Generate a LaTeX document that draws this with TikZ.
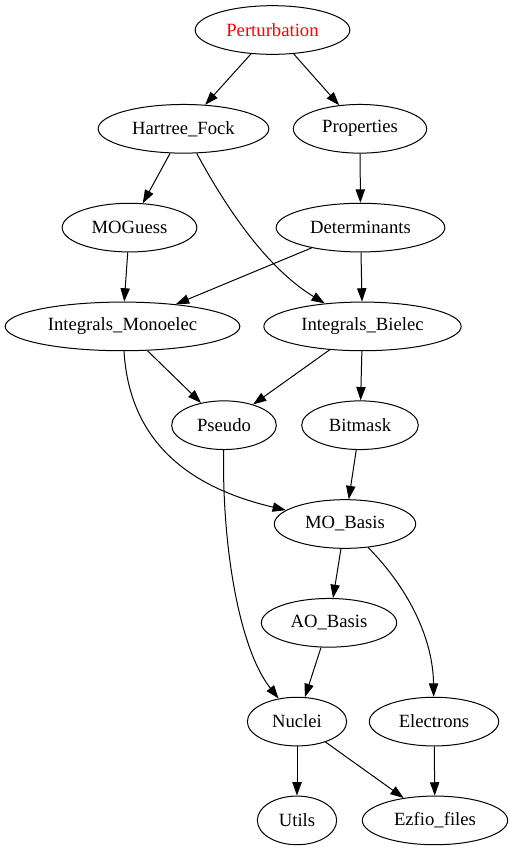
\documentclass[tikz,border=0pt]{standalone}
\usepackage{fontspec}
\setmainfont{Liberation Serif}
\usetikzlibrary{shapes.geometric, arrows.meta}
\tikzstyle{module} = [ellipse, minimum height=36.5pt, inner sep=1pt, text centered, draw=black, line width=0.75pt, font=\fontsize{14pt}{16pt}\selectfont]
\tikzstyle{arrow} = [line width=0.75pt, -{Triangle[length=10pt, width=7pt]}]

\begin{document}
\begin{tikzpicture}[x=0.75pt, y=-0.75pt]
\useasboundingbox (0,0) rectangle (509,851);

\node (perturbation) [module, minimum width=116pt, text=red] at (272.5,30) {Perturbation};

\node (hartree_fock) [module, minimum width=128pt] at (183.5,128.8) {Hartree\_Fock};
\node (properties) [module, minimum width=100pt] at (360,128.8) {Properties};

\node (moguess) [module, minimum width=101pt] at (129.5,227.6) {MOGuess};
\node (determinants) [module, minimum width=126.5pt] at (360.5,227.6) {Determinants};

\node (int_mono) [module, minimum width=176pt] at (122.5,326.4) {Integrals\_Monoelec};
\node (int_bielec) [module, minimum width=148pt] at (362.5,326.4) {Integrals\_Bielec};

\node (pseudo) [module, minimum width=78.5pt] at (224,425.2) {Pseudo};
\node (bitmask) [module, minimum width=87.5pt] at (360,425.2) {Bitmask};

\node (mo_basis) [module, minimum width=106pt] at (345,524) {MO\_Basis};

\node (ao_basis) [module, minimum width=101.5pt] at (329,622.8) {AO\_Basis};

\node (nuclei) [module, minimum width=74.5pt] at (297,721.6) {Nuclei};
\node (electrons) [module, minimum width=97pt] at (434,721.6) {Electrons};

\node (utils) [module, minimum width=59.5pt] at (297,820.4) {Utils};
\node (ezfio) [module, minimum width=109pt] at (435,820.4) {Ezfio\_files};



\draw [arrow] (perturbation) -- (hartree_fock);
\draw [arrow] (perturbation) -- (properties);
\draw [arrow] (hartree_fock) -- (moguess);
\draw [arrow] (hartree_fock) .. controls (230,215) and (270,270) .. (int_bielec);
\draw [arrow] (properties) -- (determinants);
\draw [arrow] (moguess) -- (int_mono);
\draw [arrow] (determinants) -- (int_mono);
\draw [arrow] (determinants) -- (int_bielec);
\draw [arrow] (int_mono) -- (pseudo);
\draw [arrow] (int_mono) .. controls (130,450) and (200,490) .. (mo_basis);
\draw [arrow] (int_bielec) -- (pseudo);
\draw [arrow] (int_bielec) -- (bitmask);
\draw [arrow] (pseudo) .. controls (222,550) and (240,650) .. (nuclei);
\draw [arrow] (bitmask) -- (mo_basis);
\draw [arrow] (mo_basis) -- (ao_basis);
\draw [arrow] (mo_basis) .. controls (410,590) and (433,640) .. (electrons);
\draw [arrow] (ao_basis) -- (nuclei);
\draw [arrow] (nuclei) -- (utils);
\draw [arrow] (nuclei) -- (ezfio);
\draw [arrow] (electrons) -- (ezfio);


\end{tikzpicture}
\end{document}
